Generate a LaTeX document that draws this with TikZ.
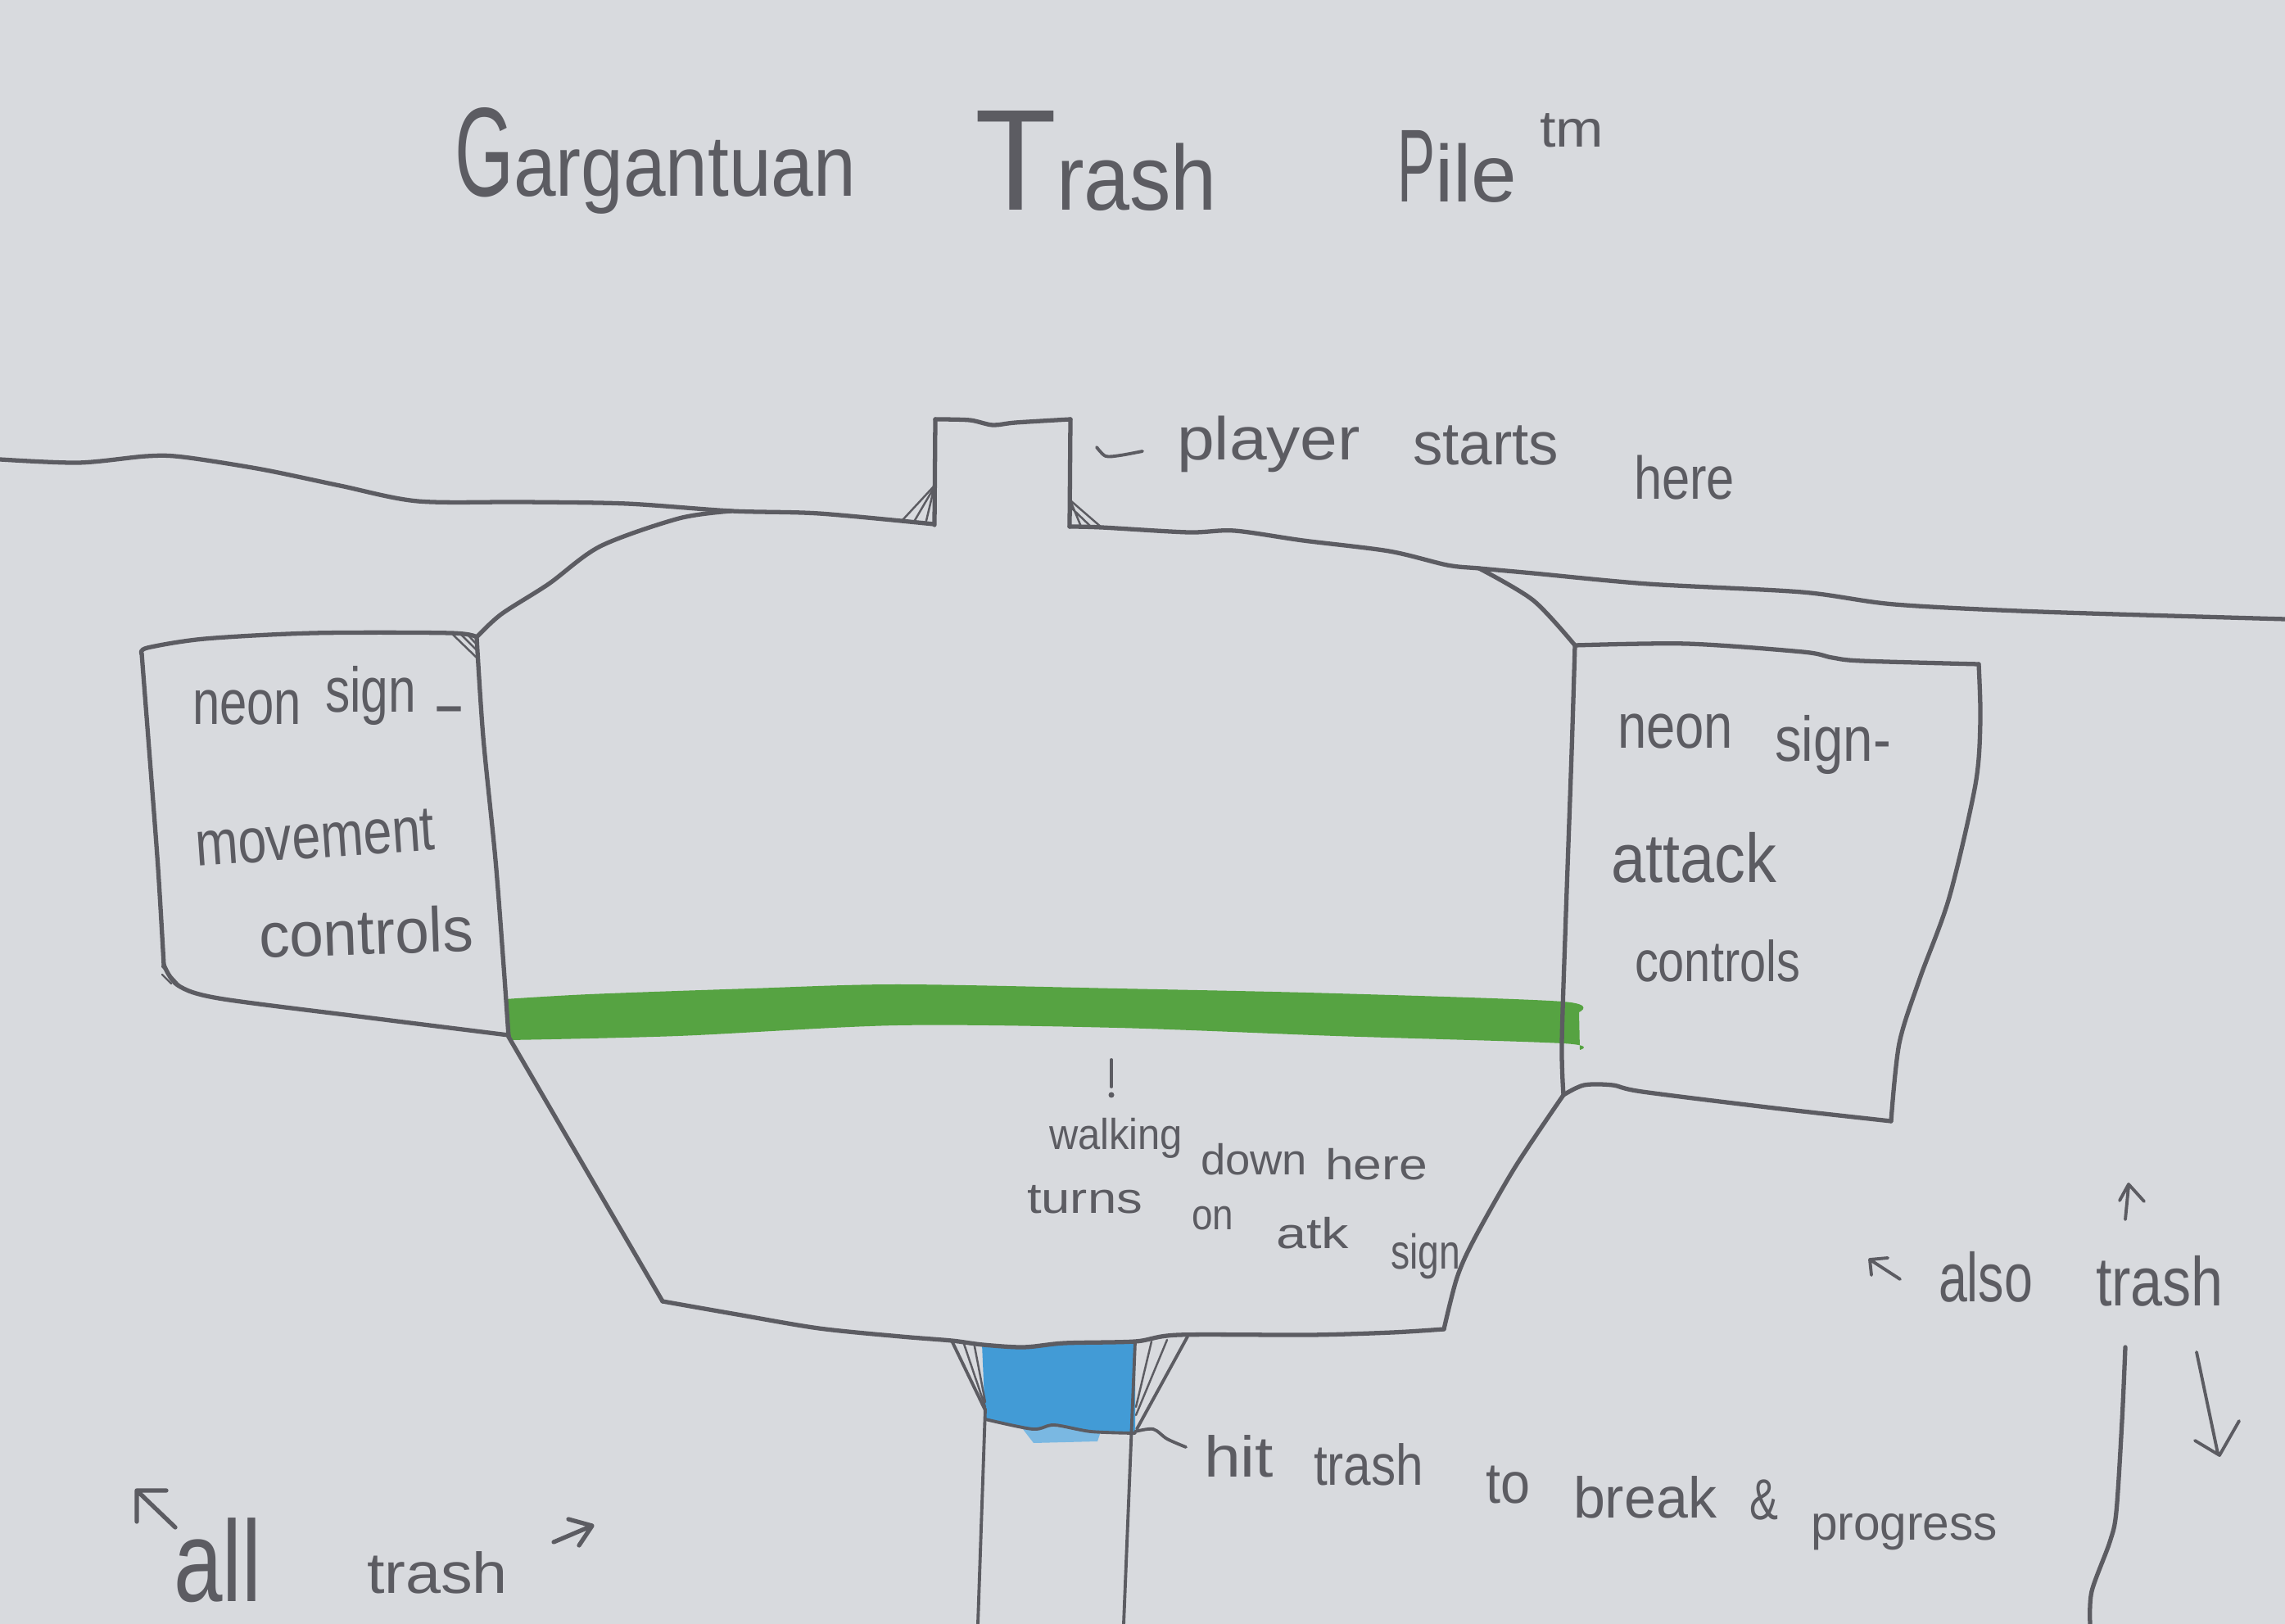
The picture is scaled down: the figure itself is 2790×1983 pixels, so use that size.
\documentclass[tikz,border=0pt]{standalone}
\usepackage{fontspec}
\setmainfont{Liberation Sans}
\usepackage{graphicx}
\newlength\pxu
\setlength\pxu{0.01cm}
% \hw{size in pt}{width in px}{text}: set text at a size, then squeeze or stretch it to a width
\newcommand\hw[3]{{\fontsize{#1}{#1}\selectfont\resizebox{#2\pxu}{\height}{#3}}}
\definecolor{paper}{RGB}{216,218,222}
\definecolor{pencil}{RGB}{92,92,98}
\definecolor{marker}{RGB}{86,163,66}
\definecolor{crayon}{RGB}{66,155,214}
\definecolor{crayonlight}{RGB}{122,184,226}
\begin{document}
\begin{tikzpicture}[x=0.01cm,y=-0.01cm,
  ink/.style={draw=pencil,line width=1.5pt,line cap=round,line join=round},
  pen/.style={draw=pencil,line width=1.1pt,line cap=round,line join=round},
  hatch/.style={draw=pencil,line width=0.7pt,line cap=round},
  txt/.style={anchor=base west,inner sep=0pt,outer sep=0pt,text=pencil}]

\useasboundingbox (0,0) rectangle (2790,1983);
\clip (0,0) rectangle (2790,1983);
\fill[paper] (0,0) rectangle (2790,1983);

% green band across the pile
\fill[marker] plot[smooth] coordinates {(617,1220) (720,1214) (917,1207) (1096,1202) (1364,1207) (1631,1213) (1908,1223) (1928,1236)}
  -- plot[smooth] coordinates {(1929,1282) (1908,1274) (1631,1265) (1364,1255) (1096,1252) (828,1265) (622,1270)} -- cycle;

% blue block of trash in the shaft
\fill[crayonlight] (1245,1740) -- (1345,1745) -- (1340,1760) -- (1262,1762) -- cycle;
\fill[crayon] plot[smooth] coordinates {(1199,1641) (1230,1646) (1260,1643) (1300,1641) (1386,1638)}
  -- (1386,1750) -- plot[smooth] coordinates {(1386,1750) (1332,1748) (1287,1740) (1261,1745) (1203,1733)} -- cycle;
\draw[pen] plot[smooth] coordinates {(1203,1733) (1261,1745) (1287,1740) (1332,1748) (1386,1750)};

% ground line, left and right of the start box
\draw[ink] plot[smooth] coordinates {(0,561) (96,565) (179,557) (223,558) (319,573) (415,593) (510,612) (638,613) (765,615) (893,624) (1000,627) (1140,640)};
\draw[ink] plot[smooth] coordinates {(1306,643) (1345,644) (1451,650) (1507,648) (1591,660) (1696,673) (1767,690) (1806,694) (1872,700) (2012,713) (2200,723) (2313,738) (2491,747) (2790,756)};

% start box
\draw[ink] (1141,641) -- (1142,512);
\draw[ink] plot[smooth] coordinates {(1142,512) (1184,513) (1212,519) (1240,516) (1307,512)};
\draw[ink] (1307,512) -- (1306,643);
\draw[hatch] (1141,641) -- (1102,635) -- (1140,594);
\draw[hatch] (1140,596) -- (1116,637) (1140,598) -- (1130,640);
\draw[hatch] (1306,643) -- (1345,644) -- (1308,612);
\draw[hatch] (1308,614) -- (1320,643) (1308,620) -- (1333,644);

% outline of the pile
\draw[ink] plot[smooth] coordinates {(893,624) (829,633) (733,667) (670,713) (612,750) (582,778)};
\draw[ink] plot[smooth] coordinates {(582,778) (590,900) (605,1050) (615,1180) (621,1266)};
\draw[ink] (621,1266) -- (809,1589);
\draw[ink] plot[smooth] coordinates {(809,1589) (900,1605) (1000,1622) (1100,1632) (1162,1637) (1200,1642) (1250,1645) (1300,1640) (1386,1638) (1439,1630) (1600,1630) (1700,1627) (1763,1623)};
\draw[ink] plot[smooth] coordinates {(1763,1623) (1779,1560) (1800,1513) (1850,1425) (1909,1337)};
\draw[ink] plot[smooth] coordinates {(1909,1337) (1907,1274) (1912,1116) (1919,918) (1923,788)};
\draw[ink] plot[smooth] coordinates {(1806,694) (1872,733) (1923,788)};

% left sign
\draw[ink] plot[smooth] coordinates {(173,798) (180,791) (250,780) (383,773) (550,773) (582,778)};
\draw[ink] plot[smooth] coordinates {(173,798) (183,927) (193,1060) (200,1178)};
\draw[ink] plot[smooth] coordinates {(200,1178) (217,1203) (267,1219) (445,1242) (621,1264)};
\draw[hatch] (552,774) -- (582,803) (562,774) -- (583,795) (572,776) -- (583,788);
\draw[hatch] (198,1180) -- (219,1203) (198,1190) -- (209,1201);

% right sign
\draw[ink] plot[smooth] coordinates {(1923,788) (2059,786) (2201,796) (2237,803) (2273,807) (2416,811)};
\draw[ink] plot[smooth] coordinates {(2416,811) (2418,880) (2412,958) (2380,1096) (2344,1195) (2319,1274) (2309,1369)};
\draw[ink] plot[smooth] coordinates {(2309,1369) (2166,1353) (2005,1333) (1969,1325) (1934,1325) (1909,1337)};

% shaft below the pile
\draw[pen] (1162,1637) -- (1203,1722);
\draw[hatch] (1176,1638) -- (1203,1718) (1189,1639) -- (1203,1712);
\draw[pen] (1450,1632) -- (1388,1745);
\draw[hatch] (1406,1638) -- (1387,1718) (1425,1636) -- (1387,1728);
\draw[pen] (1203,1720) -- (1194,1983);
\draw[pen] (1386,1638) -- (1372,1983);

% marks and pointers
\draw[pen] (1357,1294) -- (1357,1327);
\fill[pencil] (1357,1337) circle (3.5);
\draw[pen] plot[smooth] coordinates {(1339,546) (1350,557) (1368,556) (1395,551)};
\draw[pen] plot[smooth] coordinates {(1386,1748) (1408,1745) (1425,1757) (1448,1767)};

% arrows around "also trash"
\draw[pen] (2320,1562) -- (2283,1538) -- (2285,1557) (2283,1538) -- (2305,1536);
\draw[pen] (2595,1489) -- (2599,1448) (2588,1466) -- (2599,1446) -- (2618,1467);
\draw[ink] plot[smooth] coordinates {(2595,1645) (2591,1735) (2584,1846) (2576,1883) (2554,1943) (2552,1983)};
\draw[pen] (2682,1651) -- (2708,1775) (2680,1759) -- (2710,1777) -- (2734,1735);

% arrows around "all trash"
\draw[ink] (214,1865) -- (167,1820) -- (167,1858) (167,1820) -- (203,1820);
\draw[ink] (676,1883) -- (723,1863) (694,1855) -- (723,1863) -- (707,1887);

% title
\node[txt] (ttlA) at (555,240) {\hw{44}{72}{G}\hw{30}{418}{argantuan}};
\node[txt] (ttlB) at (1190,257) {\hw{50}{100}{T}\hw{32}{196}{rash}};
\node[txt] (ttlC) at (1706,247) {\hw{36}{46}{P}\hw{28}{100}{ile}};
\node[txt] (ttlD) at (1880,180) {\hw{18}{78}{tm}};

% start label
\node[txt] (ps1) at (1437,562) {\hw{21}{224}{player}};
\node[txt] (ps2) at (1725,568) {\hw{21}{178}{starts}};
\node[txt] (ps3) at (1995,610) {\hw{21}{123}{here}};

% left sign text
\node[txt] (mv1) at (235,885) {\hw{22}{133}{neon}};
\node[txt] (mv2) at (397,870) {\hw{22}{111}{sign}};
\node[txt] (mv3) at (528,887) {\hw{22}{40}{-}};
\node[txt,rotate=4] (mv4) at (240,1058) {\hw{22}{293}{movement}};
\node[txt,rotate=2] (mv5) at (317,1170) {\hw{22}{262}{controls}};

% right sign text
\node[txt] (at1) at (1975,914) {\hw{22}{141}{neon}};
\node[txt] (at2) at (2167,930) {\hw{22}{142}{sign-}};
\node[txt] (at3) at (1967,1078) {\hw{24}{202}{attack}};
\node[txt] (at4) at (1996,1199) {\hw{20}{202}{controls}};

% note under the green band
\node[txt] (wk1) at (1281,1404) {\hw{15}{163}{walking}};
\node[txt] (wk2) at (1466,1435) {\hw{15}{130}{down}};
\node[txt] (wk3) at (1618,1441) {\hw{15}{125}{here}};
\node[txt] (wk4) at (1254,1482) {\hw{15}{141}{turns}};
\node[txt] (wk5) at (1455,1502) {\hw{15}{51}{on}};
\node[txt] (wk6) at (1558,1525) {\hw{15}{89}{atk}};
\node[txt] (wk7) at (1698,1550) {\hw{17}{85}{sign}};

% note beside the shaft
\node[txt] (ht1) at (1470,1803) {\hw{20}{85}{hit}};
\node[txt] (ht2) at (1604,1813) {\hw{20}{134}{trash}};
\node[txt] (ht3) at (1814,1835) {\hw{20}{54}{to}};
\node[txt] (ht4) at (1921,1853) {\hw{20}{175}{break}};
\node[txt] (ht5) at (2136,1855) {\hw{20}{35}{\&}};
\node[txt] (ht6) at (2211,1880) {\hw{17}{228}{progress}};

% side notes
\node[txt] (al1) at (2367,1590) {\hw{24}{115}{also}};
\node[txt] (al2) at (2559,1595) {\hw{24}{156}{trash}};
\node[txt] (tr1) at (212,1955) {\hw{40}{107}{all}};
\node[txt] (tr2) at (448,1945) {\hw{20}{172}{trash}};
\end{tikzpicture}
\end{document}
